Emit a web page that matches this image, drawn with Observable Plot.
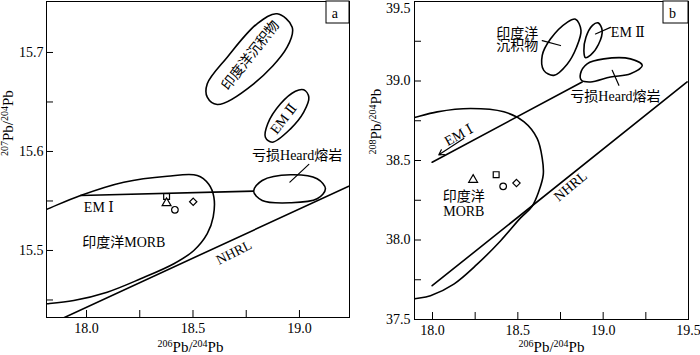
<!DOCTYPE html>
<html>
<head>
<meta charset="utf-8">
<script src="https://cdn.jsdelivr.net/npm/d3@7"></script>
<script src="https://cdn.jsdelivr.net/npm/@observablehq/plot@0.6"></script>
<style>
  html, body { margin: 0; padding: 0; background: #fff; }
  #wrap { display: flex; width: 700px; height: 355px; }
</style>
</head>
<body>
<div id="wrap"></div>
<script>
// ---------- Panel a: 207Pb/204Pb vs 206Pb/204Pb ----------
const aXDomain = [17.812, 19.235];
const aYDomain = [15.4323, 15.7515];
const aXMajor = [18.0, 18.5, 19.0];
const aXMinor = [18.25, 18.75];
const aYMajor = [15.5, 15.6, 15.7];
const aYMinor = [15.45, 15.55, 15.65];

const aMorb = [[17.69,15.531],[17.8075,15.5411],[17.972,15.5556],[18.175,15.569],[18.379,15.575],[18.52,15.5758],[18.574,15.567],[18.598,15.554],[18.595,15.534],[18.567,15.517],[18.504,15.5],[18.41,15.4866],[18.254,15.4714],[18.097,15.4579],[17.94,15.4495],[17.815,15.4462],[17.69,15.4444]];
const aEM1 = [[17.972,15.5556],[18.786,15.56]];
const aHeard = [[18.785,15.5599],[18.825,15.5707],[18.958,15.5765],[19.083,15.5724],[19.122,15.5623],[19.083,15.5522],[18.958,15.5482],[18.825,15.5505]];
const aEM2 = [[19.02,15.6623],[19.044,15.6548],[19.02,15.6397],[18.958,15.6229],[18.872,15.6094],[18.84,15.6144],[18.851,15.628],[18.911,15.6482],[18.981,15.6609]];
const aSed = [[18.895,15.7391],[18.966,15.7256],[18.942,15.7054],[18.785,15.6684],[18.614,15.6475],[18.567,15.6548],[18.567,15.6684],[18.661,15.6953],[18.801,15.729]];
const aNHRL = [[17.88,15.4307],[19.25,15.5668]];
const aHeardLeader = [[18.955,15.569],[19.044,15.587]];
const aSamples = [
  {x: 18.376, y: 15.5545, s: "square"},
  {x: 18.376, y: 15.5478, s: "triangle"},
  {x: 18.415, y: 15.5411, s: "circle"},
  {x: 18.501, y: 15.5492, s: "diamond2"}
];
const aLabels = [
  {x: 18.989, y: 15.596, t: "亏损Heard熔岩", r: 0},
  {x: 18.926, y: 15.633, t: "EM Ⅱ", r: -52},
  {x: 18.77, y: 15.697, t: "印度洋沉积物", r: -52},
  {x: 18.058, y: 15.5437, t: "EM Ⅰ", r: 0},
  {x: 18.175, y: 15.5084, t: "印度洋MORB", r: 0},
  {x: 18.692, y: 15.498, t: "NHRL", r: -27}
];

// ---------- Panel b: 208Pb/204Pb vs 206Pb/204Pb ----------
const bXDomain = [17.8945, 19.5];
const bYDomain = [37.5, 39.5];
const bXMajor = [18.0, 18.5, 19.0, 19.5];
const bXMinor = [18.25, 18.75, 19.25];
const bYMajorMid = [38.0, 38.5, 39.0];
const bYTop = [39.5];
const bYBottom = [37.5];
const bYMinor = [37.75, 38.25, 38.75, 39.25];

const bMorb = [[17.8125,38.7475],[17.89,38.769],[18.0275,38.806],[18.223,38.827],[18.418,38.806],[18.535,38.744],[18.613,38.639],[18.643,38.514],[18.649,38.411],[18.623,38.306],[18.584,38.2125],[18.516,38.139],[18.398,37.994],[18.262,37.848],[18.125,37.723],[17.988,37.65],[17.89,37.629],[17.8125,37.609]];
const bEM1 = [[17.998,38.489],[18.877,38.994]];
const bEM1Arrow = [{x1: 18.1835, y1: 38.639, x2: 18.037, y2: 38.5356}];
const bNHRL = [[17.998,37.7125],[19.492,38.994]];
const bSed = [[18.838,39.389],[18.87,39.319],[18.844,39.2125],[18.789,39.106],[18.711,39.0356],[18.652,39.067],[18.643,39.1606],[18.691,39.264],[18.789,39.369]];
const bEM2 = [[18.97,39.3656],[18.994,39.319],[18.973,39.231],[18.926,39.1625],[18.896,39.147],[18.887,39.191],[18.899,39.275],[18.9375,39.35]];
const bHeard = [[18.867,39.0456],[18.906,39.108],[19.004,39.139],[19.16,39.139],[19.229,39.098],[19.16,39.0456],[19.043,39.025],[18.926,38.994],[18.873,39.0044]];
const bSedLeader = [[18.643,39.254],[18.75,39.223]];
const bEM2Leader = [[18.955,39.2956],[19.043,39.3375]];
const bHeardLeader = [[19.053,39.067],[19.092,38.973]];
const bSamples = [
  {x: 18.238, y: 38.379, s: "triangle"},
  {x: 18.373, y: 38.411, s: "square"},
  {x: 18.414, y: 38.3375, s: "circle"},
  {x: 18.492, y: 38.358, s: "diamond2"}
];
const bLabels = [
  {x: 18.496, y: 39.2956, t: "印度洋", r: 0},
  {x: 18.496, y: 39.223, t: "沉积物", r: 0},
  {x: 19.072, y: 38.9, t: "亏损Heard熔岩", r: 0},
  {x: 18.154, y: 38.66, t: "EM Ⅰ", r: -29},
  {x: 18.1835, y: 38.275, t: "印度洋", r: 0},
  {x: 18.1835, y: 38.18, t: "MORB", r: 0},
  {x: 18.809, y: 38.3375, t: "NHRL", r: -40}
];
const bLabelsStart = [
  {x: 19.045, y: 39.307, t: "EM Ⅱ"}
];

const xTitle = "²⁰⁶Pb/²⁰⁴Pb";
const aYTitle = "²⁰⁷Pb/²⁰⁴Pb";
const bYTitle = "²⁰⁸Pb/²⁰⁴Pb";

const FONT = '"Liberation Serif", "DejaVu Serif", "Times New Roman", "Noto Sans CJK SC", serif';
const SW = 1.6;

function panelBox(w, h) {
  return (index, scales, values, dims) => {
    const g = d3.create("svg:g");
    g.append("rect")
      .attr("x", dims.width - dims.marginRight - w)
      .attr("y", dims.marginTop)
      .attr("width", w)
      .attr("height", h)
      .attr("fill", "white")
      .attr("stroke", "black")
      .attr("stroke-width", 1);
    return g.node();
  };
}

const line = (data, extra = {}) => Plot.line(data, {x: d => d[0], y: d => d[1], stroke: "black", strokeWidth: SW, clip: true, ...extra});
const titleClass = "pb-title";

const plotA = Plot.plot({
  width: 350, height: 355,
  marginLeft: 46, marginRight: 1, marginTop: 1, marginBottom: 38,
  x: {domain: aXDomain},
  y: {domain: aYDomain},
  style: {fontFamily: FONT, fontSize: "14px", background: "white", color: "black"},
  marks: [
    line(aMorb, {curve: "catmull-rom"}),
    line(aEM1),
    line(aHeard, {curve: "catmull-rom-closed", fill: "white"}),
    line(aEM2, {curve: "catmull-rom-closed"}),
    line(aSed, {curve: "catmull-rom-closed"}),
    line(aNHRL),
    line(aHeardLeader, {strokeWidth: 1.2}),
    Plot.dot(aSamples, {x: "x", y: "y", symbol: "s", r: 3.3, stroke: "black", fill: "white", strokeWidth: 1.2}),
    Plot.text(aLabels, {x: "x", y: "y", text: "t", rotate: "r", fontSize: 14, fill: "black"}),
    Plot.axisX(aXMajor.concat(aXMinor), {tickSize: -7, fill: "none", label: null, strokeWidth: 1}),
    Plot.axisX(aXMajor, {tickSize: 0, tickPadding: 6, label: null, tickFormat: d3.format(".1f"), fontSize: 14}),
    Plot.axisY(aYMajor.concat(aYMinor), {tickSize: -7, fill: "none", label: null, strokeWidth: 1}),
    Plot.axisY(aYMajor, {tickSize: 0, tickPadding: 3, label: null, tickFormat: d3.format(".1f"), fontSize: 14}),
    Plot.frame({stroke: "black", strokeWidth: 1}),
    panelBox(23, 22),
    Plot.text(["a"], {frameAnchor: "top-right", dx: -11.5, dy: 12, text: d => d, fontSize: 14, lineAnchor: "middle"}),
    Plot.text([xTitle], {frameAnchor: "bottom", dx: -7.5, dy: 30, text: d => d, fontSize: 15, lineAnchor: "middle", className: titleClass}),
    Plot.text([aYTitle], {frameAnchor: "left", dx: -38, dy: -3.5, rotate: -90, text: d => d, fontSize: 15, lineAnchor: "middle", className: titleClass})
  ]
});

const plotB = Plot.plot({
  width: 350, height: 355,
  marginLeft: 64, marginRight: 12, marginTop: 1, marginBottom: 36,
  x: {domain: bXDomain},
  y: {domain: bYDomain},
  style: {fontFamily: FONT, fontSize: "14px", background: "white", color: "black"},
  marks: [
    line(bMorb, {curve: "catmull-rom"}),
    line(bEM1),
    Plot.arrow(bEM1Arrow, {x1: "x1", y1: "y1", x2: "x2", y2: "y2", stroke: "black", strokeWidth: 1.2, headLength: 7}),
    line(bNHRL),
    line(bSed, {curve: "catmull-rom-closed"}),
    line(bEM2, {curve: "catmull-rom-closed"}),
    line(bHeard, {curve: "catmull-rom-closed"}),
    line(bSedLeader, {strokeWidth: 1.2}),
    line(bEM2Leader, {strokeWidth: 1.2}),
    line(bHeardLeader, {strokeWidth: 1.2}),
    Plot.dot(bSamples, {x: "x", y: "y", symbol: "s", r: 3.3, stroke: "black", fill: "white", strokeWidth: 1.2}),
    Plot.text(bLabels, {x: "x", y: "y", text: "t", rotate: "r", fontSize: 14, fill: "black"}),
    Plot.text(bLabelsStart, {x: "x", y: "y", text: "t", textAnchor: "start", fontSize: 14, fill: "black"}),
    Plot.axisX(bXMajor.concat(bXMinor), {tickSize: -7, fill: "none", label: null, strokeWidth: 1}),
    Plot.axisX(bXMajor, {tickSize: 0, tickPadding: 6, label: null, tickFormat: d3.format(".1f"), fontSize: 14}),
    Plot.axisY(bYMajorMid.concat(bYTop, bYBottom, bYMinor), {tickSize: -7, fill: "none", label: null, strokeWidth: 1}),
    Plot.axisY(bYMajorMid, {tickSize: 0, tickPadding: 4, label: null, tickFormat: d3.format(".1f"), fontSize: 14}),
    Plot.axisY(bYTop, {tickSize: 0, tickPadding: 4, label: null, tickFormat: d3.format(".1f"), fontSize: 14, dy: 7}),
    Plot.axisY(bYBottom, {tickSize: 0, tickPadding: 4, label: null, tickFormat: d3.format(".1f"), fontSize: 14}),
    Plot.frame({stroke: "black", strokeWidth: 1}),
    panelBox(25, 22),
    Plot.text(["b"], {frameAnchor: "top-right", dx: -12.5, dy: 12, text: d => d, fontSize: 14, lineAnchor: "middle"}),
    Plot.text([xTitle], {frameAnchor: "bottom", dy: 28, text: d => d, fontSize: 15, lineAnchor: "middle", className: titleClass}),
    Plot.text([bYTitle], {frameAnchor: "left", dx: -38, dy: -6, rotate: -90, text: d => d, fontSize: 15, lineAnchor: "middle", className: titleClass})
  ]
});

// Render superscript isotope masses as smaller raised digits (text stays real text)
const supMap = {"⁰":"0","¹":"1","²":"2","³":"3","⁴":"4","⁵":"5","⁶":"6","⁷":"7","⁸":"8","⁹":"9"};
function supify(svg) {
  svg.querySelectorAll("." + titleClass + " text").forEach(t => {
    const s = t.textContent;
    if (!/[⁰¹²³⁴-⁹]/.test(s)) return;
    const parts = s.match(/[⁰¹²³⁴-⁹]+|[^⁰¹²³⁴-⁹]+/g);
    while (t.firstChild) t.removeChild(t.firstChild);
    let raised = false;
    parts.forEach(p => {
      const ts = document.createElementNS("http://www.w3.org/2000/svg", "tspan");
      const isSup = supMap[p[0]] !== undefined;
      if (isSup) {
        ts.textContent = p.split("").map(c => supMap[c]).join("");
        ts.setAttribute("font-size", "10");
        ts.setAttribute("dy", raised ? "0" : "-5");
        raised = true;
      } else {
        ts.textContent = p;
        ts.setAttribute("dy", raised ? "5" : "0");
        raised = false;
      }
      t.appendChild(ts);
    });
  });
}
supify(plotA);
supify(plotB);

document.getElementById("wrap").append(plotA, plotB);
</script>
</body>
</html>
